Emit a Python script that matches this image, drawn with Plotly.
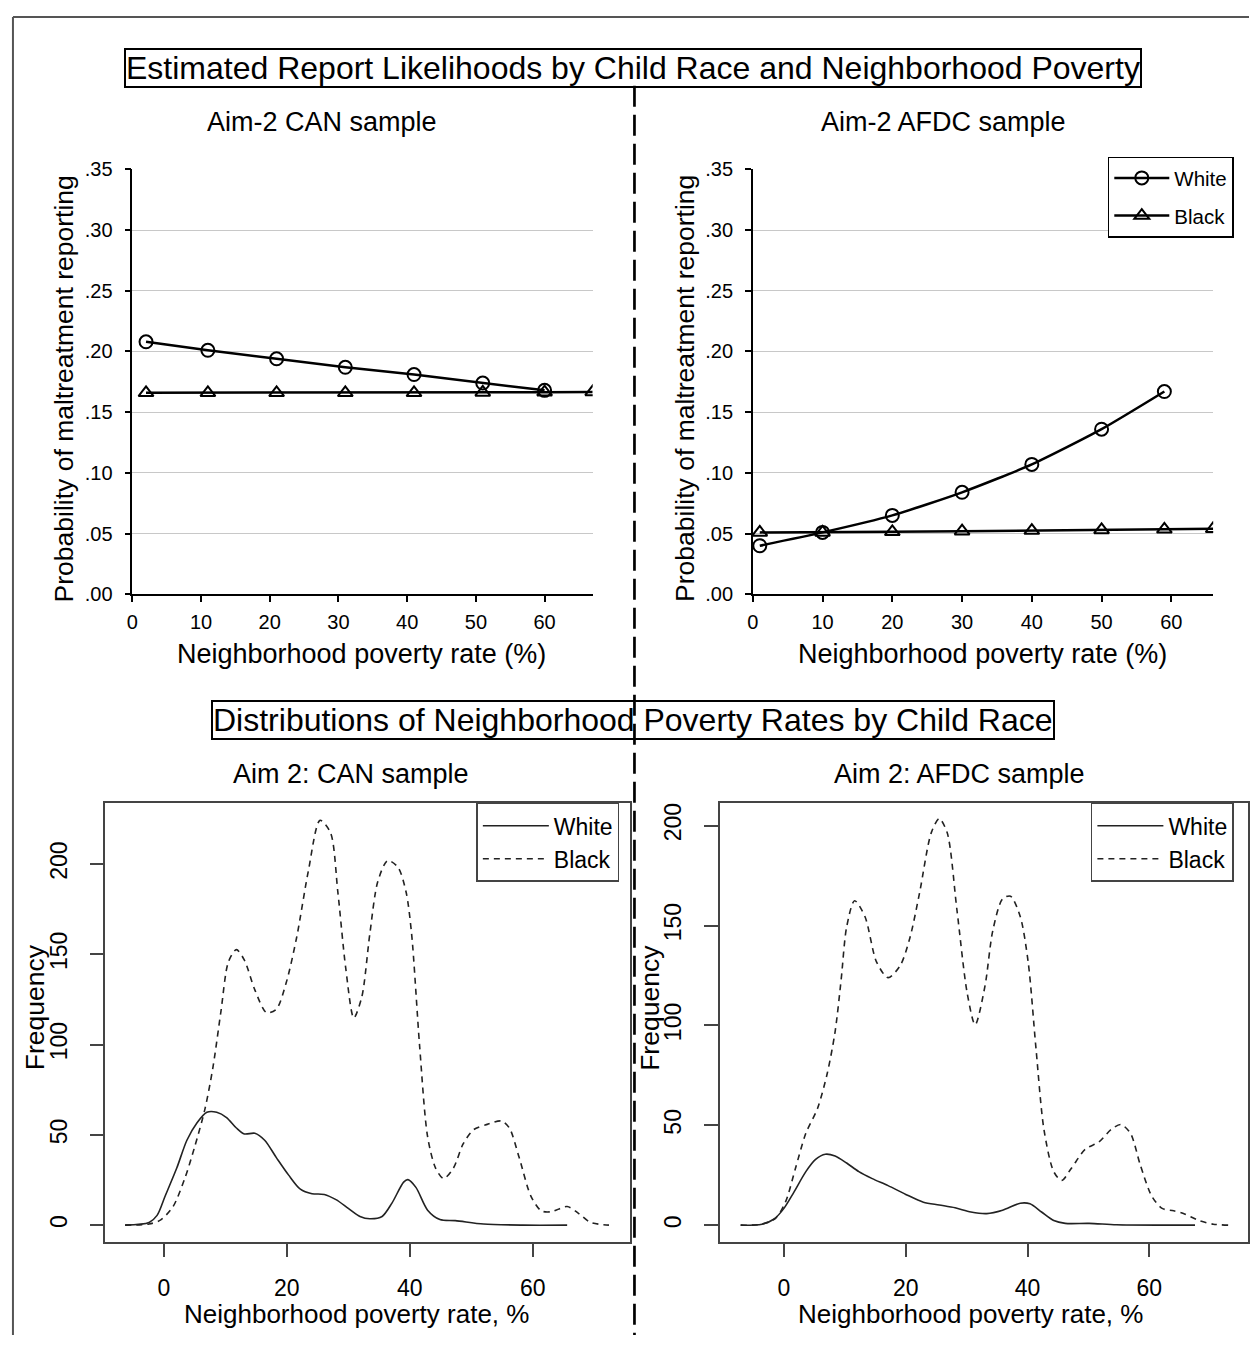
import plotly.graph_objects as go

W, H = 1250, 1346

# ---------------- Data: estimated report likelihoods ----------------
can_pov_white = [2, 11, 21, 31, 41, 51, 60]
can_prob_white = [0.208, 0.201, 0.194, 0.187, 0.181, 0.174, 0.168]
can_pov_black = [2, 11, 21, 31, 41, 51, 60, 67]
can_prob_black = [0.166, 0.166, 0.166, 0.166, 0.166, 0.1663, 0.1665, 0.1667]

afdc_pov_white = [1, 10, 20, 30, 40, 50, 59]
afdc_prob_white = [0.040, 0.051, 0.065, 0.084, 0.107, 0.136, 0.167]
afdc_pov_black = [1, 10, 20, 30, 40, 50, 59, 66]
afdc_prob_black = [0.051, 0.051, 0.0515, 0.052, 0.0525, 0.053, 0.0535, 0.054]

prob_tickvals = [0.00, 0.05, 0.10, 0.15, 0.20, 0.25, 0.30, 0.35]
prob_ticktext = [".00", ".05", ".10", ".15", ".20", ".25", ".30", ".35"]
pov_tickvals_top = [0, 10, 20, 30, 40, 50, 60]

# ---------------- Data: density of neighborhood poverty ----------------
can_dens_white_x = [-6.3, -2.4, -1.1, 0.2, 2.1, 3.75, 5.4, 7.0, 8.6, 10.2, 11.8, 13.1, 14.8,
                    16.4, 18.3, 20.3, 22.2, 24.1, 26.1, 28.0, 30.0, 31.9, 33.5, 35.5, 37.1,
                    39.0, 39.7, 41.0, 42.9, 44.9, 47.4, 52.0, 58.4, 65.6]
can_dens_white_y = [0, 1.5, 5.4, 16, 31.6, 47, 56.7, 62.5, 62.5, 59.6, 53.8, 50.5, 50.9,
                    47, 37.4, 27.7, 19.9, 17.4, 17, 14.1, 9.3, 4.8, 3.5, 4.8, 12.2,
                    23.8, 25.2, 20.9, 8.3, 3.1, 2.5, 0.6, 0, 0]
can_dens_black_x = [-6.3, -2.4, -0.5, 1.5, 3.4, 5.0, 6.7, 8.0, 9.3, 10.5, 11.8, 13.1, 14.8,
                    16.7, 18.3, 19.9, 21.6, 23.5, 25.4, 27.1, 28.3, 29.6, 30.9, 32.2, 33.5,
                    34.8, 36.4, 38.1, 39.4, 40.3, 41.6, 42.9, 44.2, 45.5, 47.1, 48.7, 50.4,
                    52.6, 54.9, 56.2, 57.8, 59.7, 61.4, 63.0, 65.6, 67.5, 69.4, 72.4]
can_dens_black_y = [0, 0.6, 2.9, 10.3, 25.8, 43.2, 64.5, 87.7, 118.7, 145.8, 152.6, 146.8, 130.3,
                    117.7, 119.6, 134.2, 159.3, 196.1, 224.2, 217.4, 184.5, 141.9, 114.8, 126.4, 161.3,
                    190.3, 201.9, 198.1, 184.5, 161.3, 99.3, 49, 31.6, 25.8, 31.6, 45.1, 52.9,
                    55.8, 57.7, 53.8, 37.4, 16.1, 7.9, 7.4, 10.3, 6.4, 1.5, 0]

afdc_dens_white_x = [-7.1, -3.6, -1.6, 0, 1.6, 3.6, 5.2, 6.8, 8.4, 10.3, 12.3, 14.5, 17.1,
                     20.0, 22.9, 25.5, 28.1, 30.7, 33.3, 35.9, 38.8, 40.4, 42.3, 44.3, 46.2,
                     50.1, 54.6, 62.4, 67.5]
afdc_dens_white_y = [0, 0.5, 3.1, 8.4, 16.3, 26.8, 32.9, 35.5, 34.6, 31.1, 26.8, 23.3, 19.8,
                     15.4, 11.5, 10.1, 8.7, 6.6, 5.8, 7.5, 11.0, 10.7, 6.6, 2.3, 0.9,
                     0.9, 0.2, 0, 0]
afdc_dens_black_x = [-7.1, -3.6, -1.3, 0.3, 1.9, 3.6, 5.5, 7.1, 8.4, 9.4, 10.3, 11.6, 13.3,
                     15.2, 17.1, 19.1, 20.7, 22.3, 24.2, 25.5, 26.8, 28.4, 30.1, 31.4, 33.0,
                     34.3, 35.9, 37.2, 38.8, 40.1, 41.4, 42.7, 44.3, 45.6, 47.2, 49.5, 51.7,
                     53.7, 55.3, 56.9, 58.5, 60.4, 62.1, 64.0, 65.6, 68.2, 70.5, 73.0]
afdc_dens_black_y = [0, 0.5, 3.7, 11.9, 28.5, 46, 58.3, 75.8, 96.8, 123, 149.3, 162.4, 154.5,
                     131.8, 123.9, 130, 144, 166.8, 196.5, 203.5, 196.5, 158, 116, 100.3, 119.5,
                     147.5, 163.3, 164.7, 154.5, 131.8, 88, 47.8, 26.8, 22.4, 28.5, 38.1, 41.6,
                     47.8, 50.4, 46, 30.3, 14.5, 8.4, 7.2, 5.8, 2.3, 0.5, 0]

freq_tickvals = [0, 50, 100, 150, 200]
pov_tickvals_bottom = [0, 20, 40, 60]

FONT = "Liberation Sans, Arial, sans-serif"


def px(p):
    return p / W


def py(p):
    return 1 - p / H


fig = go.Figure()

MK = dict(size=13, color="black", line=dict(width=2))
DASH = "6px,5px"

# ---- Top-left: CAN sample ----
fig.add_trace(go.Scatter(x=can_pov_white, y=can_prob_white, name="White", mode="lines+markers",
                         line=dict(color="black", width=2.5),
                         marker=dict(symbol="circle-open", **MK),
                         xaxis="x", yaxis="y", showlegend=False))
fig.add_trace(go.Scatter(x=can_pov_black, y=can_prob_black, name="Black", mode="lines+markers",
                         line=dict(color="black", width=2.5),
                         marker=dict(symbol="triangle-up-open", **MK),
                         xaxis="x", yaxis="y", showlegend=False))

# ---- Top-right: AFDC sample ----
fig.add_trace(go.Scatter(x=afdc_pov_white, y=afdc_prob_white, name="White", mode="lines+markers",
                         line=dict(color="black", width=2.5, shape="spline", smoothing=0.6),
                         marker=dict(symbol="circle-open", **MK),
                         xaxis="x2", yaxis="y2", legend="legend", legendgroup="w"))
fig.add_trace(go.Scatter(x=afdc_pov_black, y=afdc_prob_black, name="Black", mode="lines+markers",
                         line=dict(color="black", width=2.5),
                         marker=dict(symbol="triangle-up-open", **MK),
                         xaxis="x2", yaxis="y2", legend="legend", legendgroup="b"))

# ---- Bottom-left: CAN densities ----
fig.add_trace(go.Scatter(x=can_dens_white_x, y=can_dens_white_y, name="White", mode="lines",
                         line=dict(color="#222", width=1.6, shape="spline", smoothing=0.8),
                         xaxis="x3", yaxis="y3", legend="legend2", legendgroup="g2"))
fig.add_trace(go.Scatter(x=can_dens_black_x, y=can_dens_black_y, name="Black", mode="lines",
                         line=dict(color="#222", width=1.6, dash=DASH, shape="spline", smoothing=0.8),
                         xaxis="x3", yaxis="y3", legend="legend2", legendgroup="g2"))

# ---- Bottom-right: AFDC densities ----
fig.add_trace(go.Scatter(x=afdc_dens_white_x, y=afdc_dens_white_y, name="White", mode="lines",
                         line=dict(color="#222", width=1.6, shape="spline", smoothing=0.8),
                         xaxis="x4", yaxis="y4", legend="legend3", legendgroup="g3"))
fig.add_trace(go.Scatter(x=afdc_dens_black_x, y=afdc_dens_black_y, name="Black", mode="lines",
                         line=dict(color="#222", width=1.6, dash=DASH, shape="spline", smoothing=0.8),
                         xaxis="x4", yaxis="y4", legend="legend3", legendgroup="g3"))

top_x_common = dict(showline=True, linecolor="black", linewidth=1.5, ticks="outside", ticklen=6,
                    tickcolor="black", tickwidth=1.5, showgrid=False, zeroline=False,
                    tickvals=pov_tickvals_top, tickfont=dict(size=20, color="black", family=FONT),
                    ticklabelstandoff=3)
top_y_common = dict(showline=True, linecolor="black", linewidth=1.5, ticks="outside", ticklen=6,
                    tickcolor="black", tickwidth=1.5, showgrid=True, gridcolor="#c8c8c8", gridwidth=1.2,
                    zeroline=False, range=[0, 0.35], tickvals=prob_tickvals, ticktext=prob_ticktext,
                    tickfont=dict(size=20, color="black", family=FONT), ticklabelstandoff=8)

bot_x_common = dict(showline=True, mirror=True, linecolor="#444", linewidth=1.5, ticks="outside",
                    ticklen=14, tickcolor="#444", tickwidth=1.5, showgrid=False, zeroline=False,
                    tickvals=pov_tickvals_bottom, tickfont=dict(size=23, color="black", family=FONT),
                    ticklabelstandoff=11)
bot_y_common = dict(showline=True, mirror=True, linecolor="#444", linewidth=1.5, ticks="outside",
                    ticklen=14, tickcolor="#444", tickwidth=1.5, showgrid=False, zeroline=False,
                    tickvals=freq_tickvals, tickangle=-90,
                    tickfont=dict(size=23, color="black", family=FONT), ticklabelstandoff=14)

fig.update_layout(
    width=W, height=H,
    margin=dict(l=0, r=0, t=0, b=0),
    paper_bgcolor="white", plot_bgcolor="white",
    font=dict(family=FONT, color="black"),
    xaxis=dict(domain=[px(127), px(590)], range=[0, 67], anchor="y", **top_x_common),
    yaxis=dict(domain=[py(593), py(161)], anchor="x", **top_y_common),
    xaxis2=dict(domain=[px(751), px(1214)], range=[0, 66], anchor="y2", **top_x_common),
    yaxis2=dict(domain=[py(593), py(161)], anchor="x2", **top_y_common),
    xaxis3=dict(domain=[px(100), px(628)], range=[-9.5, 75.9], anchor="y3", **bot_x_common),
    yaxis3=dict(domain=[py(1251), py(805)], range=[-9.1, 233.9], anchor="x3", **bot_y_common),
    xaxis4=dict(domain=[px(718), px(1249)], range=[-10.5, 76.2], anchor="y4", **bot_x_common),
    yaxis4=dict(domain=[py(1251), py(805)], range=[-8.2, 211.4], anchor="x4", **bot_y_common),
    legend=dict(x=px(1108), y=py(148), xanchor="left", yanchor="top", bordercolor="black",
                borderwidth=1.5, bgcolor="white", font=dict(size=20.5, color="black", family=FONT),
                tracegroupgap=8, itemwidth=55),
    legend2=dict(x=px(473), y=py(805), xanchor="left", yanchor="top", bordercolor="#444",
                 borderwidth=1.5, bgcolor="white", font=dict(size=23, color="black", family=FONT),
                 tracegroupgap=0, itemwidth=66),
    legend3=dict(x=px(1091), y=py(805), xanchor="left", yanchor="top", bordercolor="#444",
                 borderwidth=1.5, bgcolor="white", font=dict(size=23, color="black", family=FONT),
                 tracegroupgap=0, itemwidth=66),
)

# ---- Frame, divider ----
fig.add_shape(type="line", xref="paper", yref="paper", x0=px(7), x1=px(1250), y0=py(6), y1=py(6),
              line=dict(color="#555", width=2))
fig.add_shape(type="line", xref="paper", yref="paper", x0=px(7), x1=px(7), y0=py(6), y1=py(1346),
              line=dict(color="#555", width=2))
fig.add_shape(type="line", xref="paper", yref="paper", x0=px(632), x1=px(632), y0=py(76), y1=py(1346),
              line=dict(color="black", width=2.7, dash="21px,8px"))


# ---- Text ----
def ann(text, x, y, size, angle=0, box=False):
    d = dict(text=text, x=px(x), y=py(y), xref="paper", yref="paper", showarrow=False,
             xanchor="center", yanchor="middle", textangle=angle,
             font=dict(size=size, color="black", family=FONT))
    if box:
        d.update(bordercolor="black", borderwidth=2, borderpad=0)
    fig.add_annotation(**d)


ann("Estimated Report Likelihoods by Child Race and Neighborhood Poverty", 631, 58, 32, box=True)
ann("Aim-2 CAN sample", 318, 113, 27)
ann("Aim-2 AFDC sample", 943, 113, 27)
ann("Probability of maltreatment reporting", 58, 384, 26.5, angle=-90)
ann("Probability of maltreatment reporting", 683, 384, 26.5, angle=-90)
ann("Neighborhood poverty rate (%)", 358, 654, 27)
ann("Neighborhood poverty rate (%)", 982, 654, 27)

ann("Distributions of Neighborhood Poverty Rates by Child Race", 631, 721, 32, box=True)
ann("Aim 2: CAN sample", 347, 776, 27)
ann("Aim 2: AFDC sample", 959, 776, 27)
ann("Frequency", 30, 1013, 26.5, angle=-90)
ann("Frequency", 648, 1013, 26.5, angle=-90)
ann("Neighborhood poverty rate, %", 352, 1325, 26)
ann("Neighborhood poverty rate, %", 970, 1325, 26)

fig.write_html("out.html", config={"displayModeBar": False},
               post_script="document.body.style.margin='0';document.body.style.overflow='hidden';")
